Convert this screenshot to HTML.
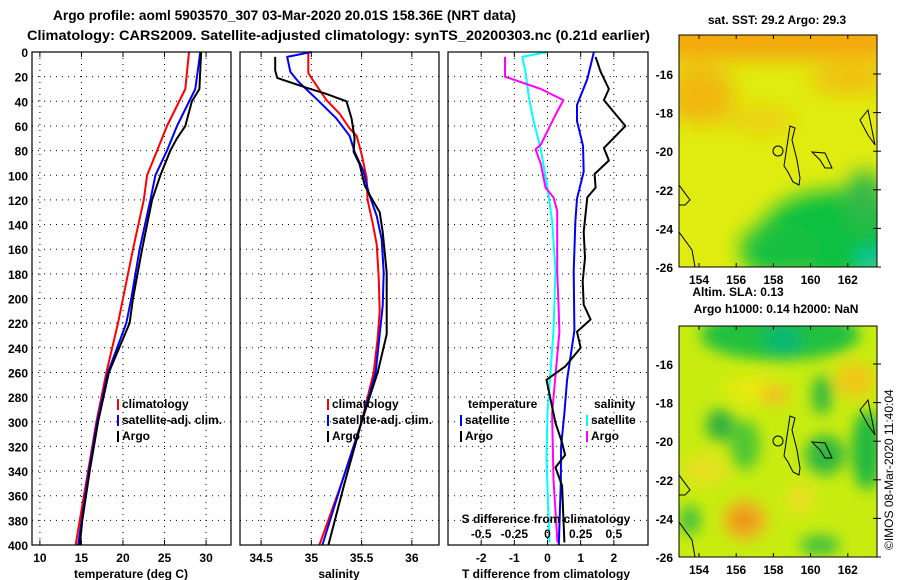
<!DOCTYPE html>
<html><head><meta charset="utf-8">
<style>
html,body{margin:0;padding:0;background:#fff;}
svg{display:block;font-family:"Liberation Sans",Arial,sans-serif;font-weight:bold;}
</style></head>
<body>
<svg id="chart" width="900" height="580" viewBox="0 0 900 580" xmlns="http://www.w3.org/2000/svg">
<defs>
  <filter id="blur1" x="-20%" y="-20%" width="140%" height="140%"><feGaussianBlur stdDeviation="10"/></filter>
  <filter id="blur2" x="-20%" y="-20%" width="140%" height="140%"><feGaussianBlur stdDeviation="7"/></filter>
  <clipPath id="clipMap1"><rect x="679" y="35" width="198" height="232"/></clipPath>
  <clipPath id="clipMap2"><rect x="679" y="326" width="198" height="231"/></clipPath>
</defs>
<text x="53" y="20" font-size="14" textLength="463" lengthAdjust="spacingAndGlyphs">Argo profile: aoml 5903570_307 03-Mar-2020 20.01S 158.36E (NRT data)</text>
<text x="27" y="40" font-size="14" textLength="623" lengthAdjust="spacingAndGlyphs">Climatology: CARS2009. Satellite-adjusted climatology: synTS_20200303.nc (0.21d earlier)</text>

<!-- Map 1: SST -->
<g clip-path="url(#clipMap1)">
  <rect x="679" y="35" width="198" height="232" fill="#e0ec10"/>
  <g filter="url(#blur1)">
    <rect x="660" y="20" width="240" height="40" fill="#f4a808"/>
    <ellipse cx="700" cy="95" rx="35" ry="30" fill="#f0b810"/>
    <ellipse cx="850" cy="80" rx="40" ry="15" fill="#f0c010"/>
    <ellipse cx="760" cy="120" rx="35" ry="12" fill="#eccc10"/>
    <ellipse cx="840" cy="235" rx="80" ry="45" fill="#10c040"/>
    <ellipse cx="780" cy="250" rx="40" ry="28" fill="#18c040"/>
    <ellipse cx="865" cy="200" rx="20" ry="30" fill="#30b848"/>
    <ellipse cx="870" cy="260" rx="12" ry="10" fill="#10c8c0"/>
  </g>
  <g fill="none" stroke="#000" stroke-width="1">
    <path d="M784,166 L790,126 L795,128 L792,140 L797,160 L800,178 L799,185 L793,182 L788,172 Z"/>
    <circle cx="778" cy="151" r="5"/>
    <path d="M812,152 L825,153 L832,168 L825,168 L820,160 Z"/>
    <path d="M860,120 L868,110 L872,130 L875,145 L868,135 Z"/>
    <path d="M679,185 L690,200 L685,205 L679,205"/>
    <path d="M679,232 L692,250 L695,267"/>
  </g>
</g>
<rect x="679" y="35" width="198" height="232" fill="none" stroke="#000"/>
<text x="777" y="24" font-size="12" text-anchor="middle">sat. SST: 29.2 Argo: 29.3</text>

<!-- Map 2: SLA -->
<g clip-path="url(#clipMap2)">
  <rect x="679" y="326" width="198" height="231" fill="#c8ec10"/>
  <g filter="url(#blur2)">
    <ellipse cx="780" cy="335" rx="80" ry="25" fill="#20c040"/>
    <ellipse cx="783" cy="340" rx="20" ry="16" fill="#10b870"/>
    <ellipse cx="755" cy="390" rx="30" ry="14" fill="#e8e810"/>
    <ellipse cx="775" cy="395" rx="14" ry="10" fill="#f0c020"/>
    <ellipse cx="855" cy="380" rx="20" ry="18" fill="#f0c818"/>
    <ellipse cx="822" cy="395" rx="10" ry="20" fill="#30b840"/>
    <ellipse cx="720" cy="425" rx="14" ry="16" fill="#30b040"/>
    <ellipse cx="745" cy="445" rx="15" ry="25" fill="#50c830"/>
    <ellipse cx="825" cy="455" rx="20" ry="20" fill="#30b840"/>
    <ellipse cx="867" cy="450" rx="15" ry="40" fill="#20b840"/>
    <ellipse cx="745" cy="520" rx="22" ry="20" fill="#f0b020"/>
    <ellipse cx="743" cy="520" rx="10" ry="10" fill="#e89010"/>
    <ellipse cx="705" cy="470" rx="22" ry="15" fill="#e8e020"/>
    <ellipse cx="800" cy="500" rx="15" ry="15" fill="#e8e020"/>
    <ellipse cx="820" cy="545" rx="20" ry="10" fill="#40c040"/>
    <ellipse cx="690" cy="520" rx="10" ry="15" fill="#40c040"/>
  </g>
  <g fill="none" stroke="#000" stroke-width="1">
    <path d="M784,456 L790,416 L795,418 L792,430 L797,450 L800,468 L799,475 L793,472 L788,462 Z"/>
    <circle cx="778" cy="441" r="5"/>
    <path d="M812,442 L825,443 L832,458 L825,458 L820,450 Z"/>
    <path d="M860,410 L868,400 L872,420 L875,435 L868,425 Z"/>
    <path d="M679,475 L690,490 L685,495 L679,495"/>
    <path d="M679,522 L692,540 L695,557"/>
  </g>
</g>
<rect x="679" y="326" width="198" height="231" fill="none" stroke="#000"/>
<text x="738" y="296" font-size="12" text-anchor="middle">Altim. SLA: 0.13</text>
<text x="776" y="313" font-size="12" text-anchor="middle">Argo h1000: 0.14 h2000: NaN</text>
<text font-size="12" font-weight="normal" transform="translate(893,550) rotate(-90)">©IMOS 08-Mar-2020 11:40:04</text>
<g id="layer"></g>
</svg>
<script>
// ---------- data ----------
var depthTicks = [0,20,40,60,80,100,120,140,160,180,200,220,240,260,280,300,320,340,360,380,400];
var tempTicks = [10,15,20,25,30];
var salTicks = [34.5,35,35.5,36];
var salTickLabels = ["34.5","35","35.5","36"];
var tdiffTicks = [-2,-1,0,1,2];
var sdiffTicks = [-0.5,-0.25,0,0.25,0.5];
var sdiffTickLabels = ["-0.5","-0.25","0","0.25","0.5"];
var lonTicks = [154,156,158,160,162];
var latTicks = [-16,-18,-20,-22,-24,-26];

var tClimDepth = [0,30,60,80,100,120,160,180,220,260,300,340,400];
var tClimVal   = [27.95,27.5,25.3,24.1,22.9,22.5,21.2,20.6,19.4,18.0,16.8,15.8,14.3];
var tSatDepth  = [0,30,60,80,100,120,160,200,220,260,300,340,400];
var tSatVal    = [29.3,28.7,26.5,25.3,23.9,23.3,22.0,21.0,20.4,18.2,16.9,15.9,14.6];
var tArgoDepth = [0,30,40,60,70,80,100,120,160,200,220,260,300,340,380,400];
var tArgoVal   = [29.4,29.2,28.3,27.5,26.5,25.7,24.5,23.5,22.3,21.2,20.8,18.3,17.0,16.0,15.1,14.8];

var sClimDepth = [0,17,21,39,50,62,68,83,102,120,139,156,183,210,232,260,300,350,400];
var sClimVal   = [34.97,34.97,35.0,35.15,35.28,35.38,35.45,35.50,35.55,35.56,35.61,35.65,35.67,35.68,35.66,35.62,35.50,35.30,35.08];
var sSatDepth  = [0,4,16,24,38,54,68,81,97,114,133,152,179,206,229,260,300,350,400];
var sSatVal    = [35.0,34.76,34.79,34.87,35.05,35.25,35.38,35.43,35.52,35.57,35.65,35.70,35.72,35.71,35.68,35.64,35.50,35.30,35.11];
var sArgoDepth = [4,15,21,29,34,40,54,70,81,91,108,116,130,146,179,206,229,260,300,350,400];
var sArgoVal   = [34.64,34.64,34.66,34.95,35.15,35.35,35.40,35.43,35.42,35.48,35.53,35.58,35.68,35.71,35.75,35.75,35.75,35.66,35.50,35.33,35.17];

var dTSatDepth  = [0,22,43,56,76,97,119,137,178,226,266,293,320,350,400];
var dTSatVal    = [1.40,1.20,0.89,0.89,1.07,1.09,0.89,0.84,0.79,0.81,0.59,0.51,0.41,0.40,0.34];
var dTArgoDepth = [4,16,30,39,60,78,88,99,110,118,146,167,186,205,217,227,240,255,266,301,317,327,337,352,398];
var dTArgoVal   = [1.45,1.60,1.85,1.70,2.35,1.70,1.85,1.42,1.45,1.20,1.09,1.13,1.06,1.09,1.30,0.89,1.0,0.54,-0.03,0.24,0.44,0.53,0.24,0.44,0.51];
var dSSatDepth  = [0,4,16,37,56,78,110,137,177,226,293,329,398];
var dSSatVal    = [0,-0.19,-0.166,-0.14,-0.105,-0.053,0,0.035,0.06,0.045,0,-0.008,0.015];
var dSArgoDepth = [4,20,30,39,51,75,79,91,110,118,129,178,205,227,293,347,398];
var dSArgoVal   = [-0.32,-0.32,-0.05,0.12,0.06,-0.05,-0.09,-0.05,-0.015,0.045,0.073,0.073,0.083,0.09,0.035,0.045,0.075];

// ---------- axes ----------
var NS = "http://www.w3.org/2000/svg";
var layer = document.getElementById('layer');
var TOP = 52, BOT = 545;
function yD(d){ return TOP + (BOT-TOP)*d/400; }
var P1 = {x0:32, x1:231, v0:9.05, v1:33.0};
var P2 = {x0:240, x1:439, v0:34.29, v1:36.27};
var P3 = {x0:448, x1:648, v0:-3.0, v1:3.03};
function xP(p, v){ return p.x0 + (p.x1-p.x0)*(v-p.v0)/(p.v1-p.v0); }
function xS(v){ return xP(P3, v*4); }
function mk(tag, attrs, parent){
  var e = document.createElementNS(NS, tag);
  for (var k in attrs) e.setAttribute(k, attrs[k]);
  (parent||layer).appendChild(e);
  return e;
}
function txt(s, x, y, anchor, size, parent){
  var t = mk('text', {x:x, y:y, 'text-anchor':anchor||'middle', 'font-size':size||12}, parent);
  t.textContent = s;
  return t;
}
function panel(p, name){
  var g = mk('g', {});
  
  
  return g;
}
function grid(p, g, vticks, xf){
  depthTicks.forEach(function(d){
    if (d===0||d===400) return;
    mk('line', {x1:p.x0, x2:p.x1, y1:yD(d), y2:yD(d), stroke:'#000', 'stroke-width':1, 'stroke-dasharray':'1 5'}, g);
  });
  vticks.forEach(function(v){
    var x = xf(v);
    mk('line', {x1:x, x2:x, y1:TOP, y2:BOT, stroke:'#000', 'stroke-width':1, 'stroke-dasharray':'1 5'}, g);
    mk('line', {x1:x, x2:x, y1:TOP, y2:TOP+5, stroke:'#000'}, g);
    mk('line', {x1:x, x2:x, y1:BOT, y2:BOT-5, stroke:'#000'}, g);
  });
}
function frame(p, g){
  mk('rect', {x:p.x0, y:TOP, width:p.x1-p.x0, height:BOT-TOP, fill:'none', stroke:'#000', 'stroke-width':1.2}, g);
}
function line(p, depths, vals, color, g, name, xf){
  var pts = depths.map(function(d,i){ return (xf?xf(vals[i]):xP(p, vals[i])).toFixed(1)+','+yD(d).toFixed(1); }).join(' ');
  var e = mk('polyline', {points:pts, fill:'none', stroke:color, 'stroke-width':2, 'stroke-linejoin':'round'}, g);
  
  
}
function legendEntry(g, x, y, color, label, name){
  var le = mk('g', {}, g);
  
  
  mk('rect', {x:x, y:y-9, width:2, height:11, fill:color}, le);
  txt(label, x+5, y, 'start', 12, le);
}

// Panel 1: temperature
var g1 = panel(P1, 'temperature-panel');
grid(P1, g1, tempTicks, function(v){return xP(P1,v);});
depthTicks.forEach(function(d){ txt(String(d), 28, yD(d)+5, 'end', 12, g1); });
tempTicks.forEach(function(v){ txt(String(v), xP(P1,v), 562, 'middle', 12, g1); });
var t1 = txt('temperature (deg C)', 131, 578, 'middle', 12, g1);


line(P1, tClimDepth, tClimVal, '#ff0000', g1, 'temp-climatology-line');
line(P1, tSatDepth, tSatVal, '#0000ff', g1, 'temp-satellite-line');
line(P1, tArgoDepth, tArgoVal, '#000000', g1, 'temp-argo-line');
frame(P1, g1);
legendEntry(g1, 117, 408, '#ff0000', 'climatology', 'legend-climatology');
legendEntry(g1, 117, 424, '#0000ff', 'satellite-adj. clim.', 'legend-satellite-adj');
legendEntry(g1, 117, 440, '#000000', 'Argo', 'legend-argo');

// Panel 2: salinity
var g2 = panel(P2, 'salinity-panel');
grid(P2, g2, salTicks, function(v){return xP(P2,v);});
salTicks.forEach(function(v,i){ txt(salTickLabels[i], xP(P2,v), 562, 'middle', 12, g2); });
var t2 = txt('salinity', 339, 578, 'middle', 12, g2);


line(P2, sClimDepth, sClimVal, '#ff0000', g2, 'sal-climatology-line');
line(P2, sSatDepth, sSatVal, '#0000ff', g2, 'sal-satellite-line');
line(P2, sArgoDepth, sArgoVal, '#000000', g2, 'sal-argo-line');
frame(P2, g2);
legendEntry(g2, 327, 408, '#ff0000', 'climatology', 'legend-climatology-2');
legendEntry(g2, 327, 424, '#0000ff', 'satellite-adj. clim.', 'legend-satellite-adj-2');
legendEntry(g2, 327, 440, '#000000', 'Argo', 'legend-argo-2');

// Panel 3: differences
var g3 = panel(P3, 'difference-panel');
grid(P3, g3, tdiffTicks, function(v){return xP(P3,v);});
tdiffTicks.forEach(function(v){ txt(String(v), xP(P3,v), 562, 'middle', 12, g3); });
var t3 = txt('T difference from climatology', 546, 578, 'middle', 12, g3);


line(P3, dSSatDepth, dSSatVal, '#00ffff', g3, 'sdiff-satellite-line', xS);
line(P3, dSArgoDepth, dSArgoVal, '#ff00ff', g3, 'sdiff-argo-line', xS);
line(P3, dTSatDepth, dTSatVal, '#0000ff', g3, 'tdiff-satellite-line');
line(P3, dTArgoDepth, dTArgoVal, '#000000', g3, 'tdiff-argo-line');
frame(P3, g3);
var st = txt('S difference from climatology', 546, 523, 'middle', 12, g3);


sdiffTicks.forEach(function(v,i){ txt(sdiffTickLabels[i], xS(v), 538, 'middle', 12, g3); });
txt('temperature', 468, 408, 'start', 12, g3);
txt('salinity', 594, 408, 'start', 12, g3);
legendEntry(g3, 460, 424, '#0000ff', 'satellite', 'legend-t-satellite');
legendEntry(g3, 460, 440, '#000000', 'Argo', 'legend-t-argo');
legendEntry(g3, 586, 424, '#00ffff', 'satellite', 'legend-s-satellite');
legendEntry(g3, 586, 440, '#ff00ff', 'Argo', 'legend-s-argo');

// Map axes
function mapAxes(y0, y1, name){
  var g = mk('g', {});
  
  
  var lonX = function(l){ return 699 + (l-154)*18.6; };
  lonTicks.forEach(function(l){
    var x = lonX(l);
    txt(String(l), x, y1+17, 'middle', 12, g);
    mk('line', {x1:x, x2:x, y1:y1, y2:y1-4, stroke:'#000'}, g);
    mk('line', {x1:x, x2:x, y1:y0, y2:y0+4, stroke:'#000'}, g);
  });
  latTicks.forEach(function(l){
    var y = y1 + (l+26)*(-19.3);
    txt(String(l), 673, y+5, 'end', 12, g);
    mk('line', {x1:877, x2:873, y1:y, y2:y, stroke:'#000'}, g);
    mk('line', {x1:877, x2:881, y1:y, y2:y, stroke:'#000'}, g);
  });
}
mapAxes(35, 267, 'sst-map-axes');
mapAxes(326, 557, 'sla-map-axes');
</script>
</body></html>
